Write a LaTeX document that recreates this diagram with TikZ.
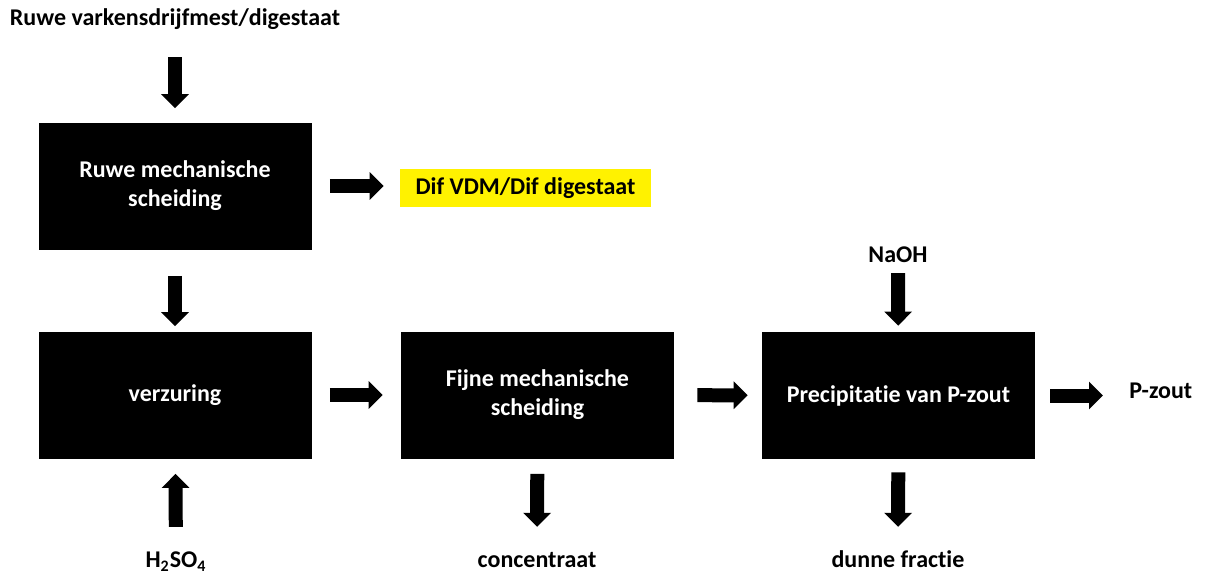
\documentclass[tikz,border=0pt]{standalone}
\usepackage{fontspec}
\setmainfont{Carlito}[Ligatures={NoCommon,NoContextual,NoRequired,NoRare}]
\usetikzlibrary{arrows.meta}
\begin{document}
\begin{tikzpicture}[x=0.5pt,y=-0.5pt,
  every node/.style={font=\fontsize{12pt}{14.5pt}\selectfont\bfseries},
  procbox/.style={fill=black, text=white, align=center, minimum width=136.5pt, minimum height=63.5pt, inner sep=0pt},
  lbl/.style={inner sep=0pt, text height=8.3pt, text depth=2.5pt},
  hilite/.style={fill=yellow, minimum width=125.5pt, minimum height=19pt, inner sep=0pt},
  blk/.style={line width=7pt, -{Triangle[width=13.5pt,length=7pt]}}
]
\useasboundingbox (0,0) rectangle (1206,579);
\node[lbl] (top) at (175,20) {Ruwe varkensdrijfmest/digestaat};
\node[procbox] (b1) at (175,186) {Ruwe mechanische\\scheiding};
\node[hilite] (lab) at (525.5,188) {Dif VDM/Dif digestaat};
\node[procbox] (b2) at (175,395) {verzuring};
\node[procbox] (b3) at (537.5,395) {Fijne mechanische\\scheiding};
\node[procbox] (b4) at (898.5,395.5) {Precipitat\kern0pt ie van P-zout};
\node[lbl] (naoh) at (898,257) {NaOH};
\node[lbl, anchor=west] (pz) at (1129,393) {P-zout};
\node[lbl] (h2so4) at (176,562) {H\textsubscript{2}SO\textsubscript{4}};
\node[lbl] (conc) at (537,562) {concentraat};
\node[lbl] (dun) at (898,562) {dunne fract\kern0pt ie};

\draw[blk, shorten <=13pt, shorten >=7pt] (top) -- (b1);
\draw[blk, shorten <=13pt, shorten >=2.5pt] (b1) -- (b2);
\draw[blk, shorten <=9pt, shorten >=8pt] (b1.east) -- (b1.east -| lab.west);
\draw[blk, shorten <=9pt, shorten >=9pt] (b2) -- (b3);
\draw[blk, shorten <=11.5pt, shorten >=7pt] (b3) -- (b4);
\draw[blk, shorten <=7.5pt, shorten >=13pt] (b4.east) -- (b4.east -| pz.west);
\draw[blk, shorten <=2.5pt, shorten >=3pt] (naoh) -- (b4);
\draw[blk, shorten <=6.5pt, shorten >=12pt] (b4) -- (dun);
\draw[blk, shorten <=7.5pt, shorten >=12pt] (b3) -- (conc);
\draw[blk, shorten <=12pt, shorten >=7.5pt] (h2so4) -- (b2);
\end{tikzpicture}
\end{document}
